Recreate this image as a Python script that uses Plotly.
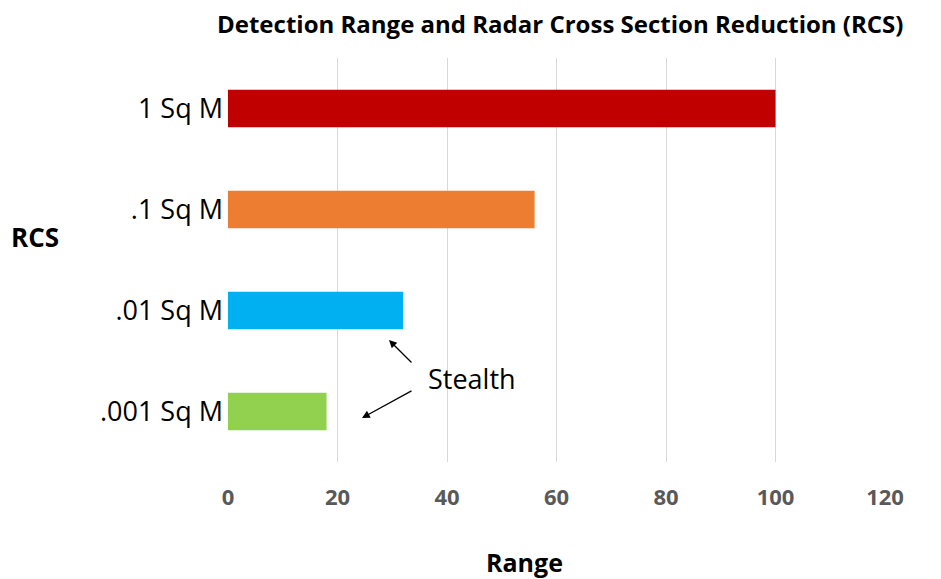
import plotly.graph_objects as go

categories = ["1 Sq M", ".1 Sq M", ".01 Sq M", ".001 Sq M"]
ranges = [100, 56, 32, 18]
colors = ["#C00000", "#ED7D31", "#00B0F0", "#92D050"]
x_ticks = [0, 20, 40, 60, 80, 100, 120]
title_text = "Detection Range and Radar Cross Section Reduction (RCS)"

# page body has an 8px margin, so the figure is drawn 8px in from the top-left
OFF = 8
W, H = 941 - OFF, 579 - OFF
L, R, T, B = 228 - OFF, 56, 58 - OFF, 117
PW, PH = W - L - R, H - T - B

fig = go.Figure(go.Bar(
    x=ranges, y=categories, orientation="h",
    marker=dict(color=colors, line=dict(width=0)),
    showlegend=False, hoverinfo="x+y",
))

def px_to_data_x(px):
    return (px - OFF - L) / PW * 120

def px_to_paper(px):
    return (px - OFF - L) / PW

def py_to_paper(py):
    return 1 - (py - OFF - T) / PH

fig.update_layout(
    width=W, height=H,
    margin=dict(l=L, r=R, t=T, b=B),
    plot_bgcolor="white", paper_bgcolor="white",
    bargap=0.63,
    font=dict(family="Open Sans, Liberation Sans, sans-serif", color="#000000"),
    xaxis=dict(
        range=[0, 120], tickvals=x_ticks, ticktext=[f"<b>{v}</b>" for v in x_ticks],
        showgrid=True, gridcolor="#D9D9D9", gridwidth=1,
        zeroline=False, showline=False,
        tickfont=dict(size=22, color="#595959"),
        ticklabelstandoff=20,
        fixedrange=True,
    ),
    yaxis=dict(
        categoryorder="array", categoryarray=categories, autorange="reversed",
        showgrid=False, zeroline=False, showline=False,
        tickfont=dict(size=27, color="#000000"),
        ticklabelstandoff=4,
        fixedrange=True,
    ),
    annotations=[
        dict(text=f"<b>{title_text}</b>", xref="paper", yref="paper",
             x=px_to_paper(560), y=py_to_paper(24),
             showarrow=False, xanchor="center", yanchor="middle",
             font=dict(size=24, color="#000000")),
        dict(text="<b>Range</b>", xref="paper", yref="paper",
             x=px_to_paper(524), y=py_to_paper(562),
             showarrow=False, xanchor="center", yanchor="middle",
             font=dict(size=25, color="#000000")),
        dict(text="<b>RCS</b>", xref="paper", yref="paper",
             x=px_to_paper(35), y=py_to_paper(237),
             showarrow=False, xanchor="center", yanchor="middle",
             font=dict(size=26, color="#000000")),
        dict(text="Stealth", xref="x", yref="paper",
             x=px_to_data_x(426), y=py_to_paper(378),
             showarrow=False, xanchor="left", yanchor="middle",
             font=dict(size=27, color="#000000")),
        dict(text="", xref="x", yref="paper",
             x=px_to_data_x(389), y=py_to_paper(340),
             ax=413 - 389, ay=364 - 340,
             showarrow=True, arrowhead=2, arrowsize=1.2, arrowwidth=1.3,
             arrowcolor="#000000", standoff=0, startstandoff=0),
        dict(text="", xref="x", yref="paper",
             x=px_to_data_x(362), y=py_to_paper(418),
             ax=413 - 362, ay=390 - 418,
             showarrow=True, arrowhead=2, arrowsize=1.2, arrowwidth=1.3,
             arrowcolor="#000000", standoff=0, startstandoff=0),
    ],
)

fig.write_html("out.html")
